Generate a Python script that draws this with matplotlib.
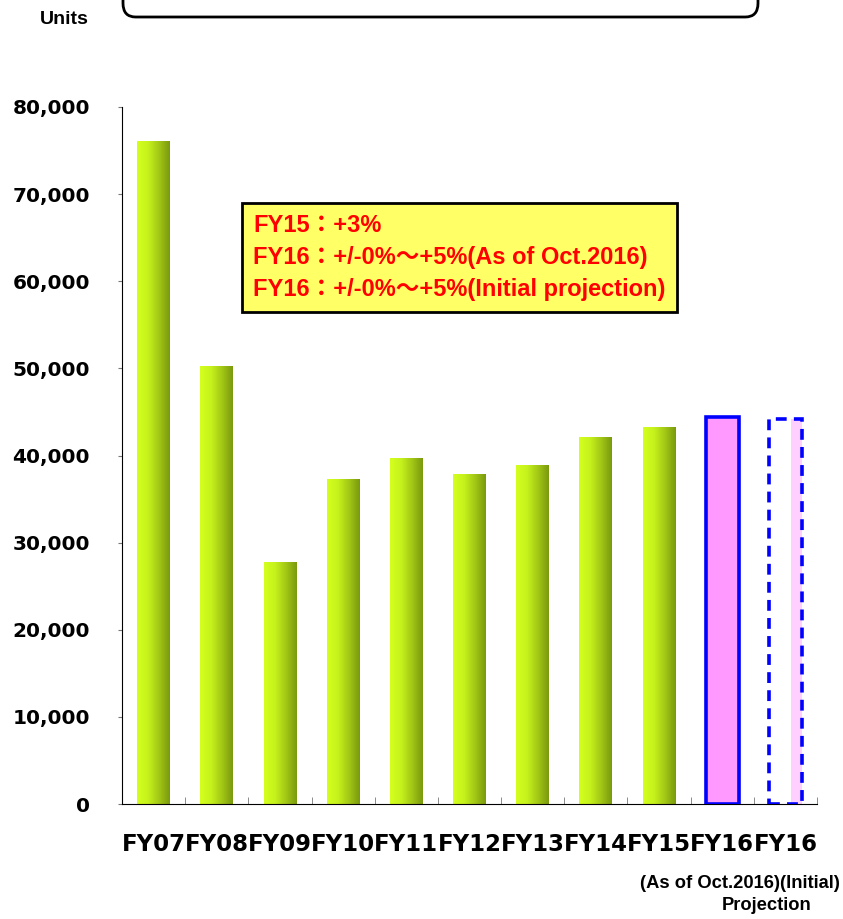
import numpy as np
import matplotlib
matplotlib.use("Agg")
import matplotlib.pyplot as plt
import matplotlib.ticker as mtick
from matplotlib.colors import LinearSegmentedColormap
from matplotlib.patches import FancyBboxPatch

# ===== data =====
categories = ["FY07", "FY08", "FY09", "FY10", "FY11", "FY12", "FY13", "FY14", "FY15", "FY16", "FY16"]
actual_units = [76000, 50200, 27700, 37200, 39700, 37800, 38900, 42100, 43200]
forecast_oct = 44400      # FY16 (As of Oct.2016)
forecast_initial = 44200  # FY16 (Initial Projection)
note_lines = ["FY15\uff1a+3%",
              "FY16\uff1a+/-0%\uff5e+5%(As of Oct.2016)",
              "FY16\uff1a+/-0%\uff5e+5%(Initial projection)"]
yticks = np.arange(0, 80001, 10000)

arial = ["Liberation Sans", "Noto Sans CJK JP"]

fig = plt.figure(figsize=(8.43, 9.19), dpi=100)
ax = fig.add_axes([0.1447, 0.1251, 0.8245, 0.7585])

x = np.arange(len(categories))
bar_w = 0.52

# green gradient bars for actual volumes
bars = ax.bar(x[:len(actual_units)], actual_units, width=bar_w, color="none", edgecolor="none")
green = LinearSegmentedColormap.from_list("grn", ["#d4ff1e", "#c6f21c", "#a3c816", "#7a9a0e"])
grad = np.linspace(0, 1, 64).reshape(1, -1)
for r in bars:
    ax.imshow(grad, cmap=green, aspect="auto", interpolation="bicubic",
              extent=[r.get_x(), r.get_x() + r.get_width(), 0, r.get_height()], zorder=2)

# FY16 forecasts
ax.bar(x[9], forecast_oct, width=bar_w, color="#ff99ff", edgecolor="#0000ff", linewidth=2.6, zorder=3)
ax.bar(x[10] + bar_w * 0.33, forecast_initial, width=bar_w * 0.32, color="#ffd0ff",
       edgecolor="none", zorder=2)
ax.bar(x[10], forecast_initial, width=bar_w, color="none", edgecolor="#0000ff",
       linewidth=2.6, linestyle=(0, (3, 2)), zorder=3)

ax.set_xlim(-0.5, len(categories) - 0.5)
ax.set_ylim(0, 80000)

ax.spines["top"].set_visible(False)
ax.spines["right"].set_visible(False)

ax.set_yticks(yticks)
ax.yaxis.set_major_formatter(mtick.FuncFormatter(lambda v, p: f"{v:,.0f}"))
ax.tick_params(axis="y", direction="out", length=3, color="#777777", pad=20,
               labelsize=14.5)
for t in ax.get_yticklabels():
    t.set_fontweight("bold")

ax.set_xticks(x)
ax.set_xticklabels(categories, fontsize=16.5, fontweight="bold")
ax.tick_params(axis="x", which="major", length=0, pad=21)
ax.set_xticks(np.arange(-0.5, len(categories)), minor=True)
ax.tick_params(axis="x", which="minor", direction="in", length=5, color="#777777")

# note box
ax.text(0.189, 0.846, "\n".join(note_lines), transform=ax.transAxes, ha="left", va="top",
        fontsize=17, fontweight="bold", color="#ff0000", family=arial, linespacing=1.48,
        bbox=dict(boxstyle="square,pad=0.48", facecolor="#ffff66", edgecolor="black", linewidth=2))

# labels under the FY16 bars
fig.text(840 / 843, 1 - 883 / 919, "(As of Oct.2016)(Initial)", ha="right", va="center",
         fontsize=13.2, fontweight="bold", family=arial)
fig.text(767 / 843, 1 - 906 / 919, "Projection", ha="center", va="center",
         fontsize=13.2, fontweight="bold", family=arial)

fig.text(64 / 843, 1 - 19 / 919, "Units", ha="center", va="center",
         fontsize=14, fontweight="bold", family=arial)

# title frame, cut off at top of the page
frame = FancyBboxPatch((123 / 843, 1 - 17 / 919), 635 / 843, 0.1,
                       boxstyle="round,pad=0,rounding_size=0.015",
                       transform=fig.transFigure, facecolor="white", edgecolor="black",
                       linewidth=2, clip_on=False)
fig.patches.append(frame)

fig.savefig("out.png", dpi=100)
